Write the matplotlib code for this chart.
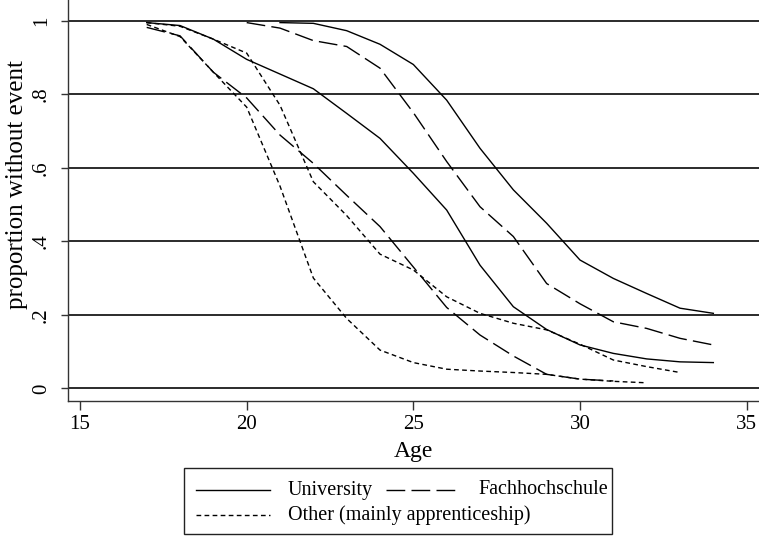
import numpy as np
import matplotlib.pyplot as plt
from matplotlib.lines import Line2D
from matplotlib.patches import Rectangle

plt.rcParams['font.family'] = ['Liberation Serif', 'DejaVu Serif']
plt.rcParams['font.size'] = 15

# survival curves, two cohorts per type of degree
age_uni_1 = np.arange(17, 35)
surv_uni_1 = [0.995, 0.987, 0.95, 0.895, 0.855, 0.815, 0.748, 0.68, 0.585,
              0.485, 0.335, 0.222, 0.16, 0.118, 0.095, 0.08, 0.072, 0.07]
age_uni_2 = np.arange(21, 35)
surv_uni_2 = [0.995, 0.993, 0.973, 0.936, 0.881, 0.784, 0.653, 0.54, 0.449,
              0.349, 0.299, 0.258, 0.218, 0.204]

age_fh_1 = np.arange(17, 32)
surv_fh_1 = [0.982, 0.959, 0.86, 0.79, 0.689, 0.612, 0.525, 0.44, 0.33,
             0.22, 0.145, 0.088, 0.038, 0.025, 0.02]
age_fh_2 = np.arange(20, 35)
surv_fh_2 = [0.995, 0.98, 0.946, 0.93, 0.871, 0.75, 0.617, 0.494, 0.413,
             0.285, 0.23, 0.181, 0.163, 0.136, 0.118]

age_oth_1 = np.arange(17, 33)
surv_oth_1 = [0.99, 0.957, 0.86, 0.765, 0.55, 0.30, 0.19, 0.104, 0.07,
              0.052, 0.047, 0.043, 0.038, 0.025, 0.019, 0.015]
age_oth_2 = np.arange(17, 34)
surv_oth_2 = [0.995, 0.985, 0.95, 0.912, 0.77, 0.562, 0.47, 0.365, 0.322,
              0.249, 0.204, 0.177, 0.159, 0.12, 0.077, 0.059, 0.043]

xticks = [15, 20, 25, 30, 35]
yticks = [0, 0.2, 0.4, 0.6, 0.8, 1.0]
ylabels = ['0', '.2', '.4', '.6', '.8', '1']

W, H = 759, 536
fig = plt.figure(figsize=(W / 100, H / 100), dpi=100)
ax = fig.add_axes([67.7 / W, (H - 400.7) / H, (W - 67.7) / W, 400.7 / H])

# grid lines behind the curves
for y in yticks:
    ax.axhline(y, color='#1a1a1a', lw=1.3, zorder=1)

solid = dict(color='black', lw=1.0, ls='-')
longd = dict(color='black', lw=1.0, ls=(0, (13.5, 4.5)))
short = dict(color='black', lw=1.0, ls=(0, (3.4, 2.4)))

ax.plot(age_uni_1, surv_uni_1, **solid, zorder=3)
ax.plot(age_uni_2, surv_uni_2, **solid, zorder=3)
ax.plot(age_fh_1, surv_fh_1, **longd, zorder=3)
ax.plot(age_fh_2, surv_fh_2, **longd, zorder=3)
ax.plot(age_oth_1, surv_oth_1, **short, zorder=3)
ax.plot(age_oth_2, surv_oth_2, **short, zorder=3)

ax.set_xlim(14.63, 35.37)
ax.set_ylim(-0.0337, 1.0565)
ax.set_xticks(xticks)
ax.set_yticks(yticks)
ax.set_yticklabels(ylabels, rotation=90, va='center')
ax.tick_params(axis='x', direction='out', length=6.3, width=1.0, pad=4,
               color='#333333')
ax.tick_params(axis='y', direction='out', length=5.2, width=1.0, pad=7,
               color='#333333')
for s in ['top', 'right']:
    ax.spines[s].set_visible(False)
for s in ['left', 'bottom']:
    ax.spines[s].set_color('#333333')
    ax.spines[s].set_linewidth(1.0)
ax.set_xlabel('Age', fontsize=17, labelpad=5)
ax.set_ylabel('proportion without event', fontsize=18)
ax.yaxis.set_label_coords(-0.058, 0.54)

# legend box drawn in figure pixels (origin at top left)
def fx(px):
    return px / W

def fy(py):
    return 1 - py / H

fig.add_artist(Rectangle((fx(184), fy(534)), fx(612) - fx(184), fy(468) - fy(534),
                         transform=fig.transFigure, fill=False,
                         edgecolor='#222222', lw=1.0))
keys = [('University', solid, 196, 490),
        ('Fachhochschule', longd, 386, 490),
        ('Other (mainly apprenticeship)', short, 196, 515)]
for label, style, x0, y0 in keys:
    fig.add_artist(Line2D([fx(x0), fx(x0 + 74)], [fy(y0), fy(y0)],
                          transform=fig.transFigure, **style))
    fig.text(fx(x0 + 92), fy(y0), label, va='center', ha='left', fontsize=14.5)

plt.savefig('out.png', dpi=100)
